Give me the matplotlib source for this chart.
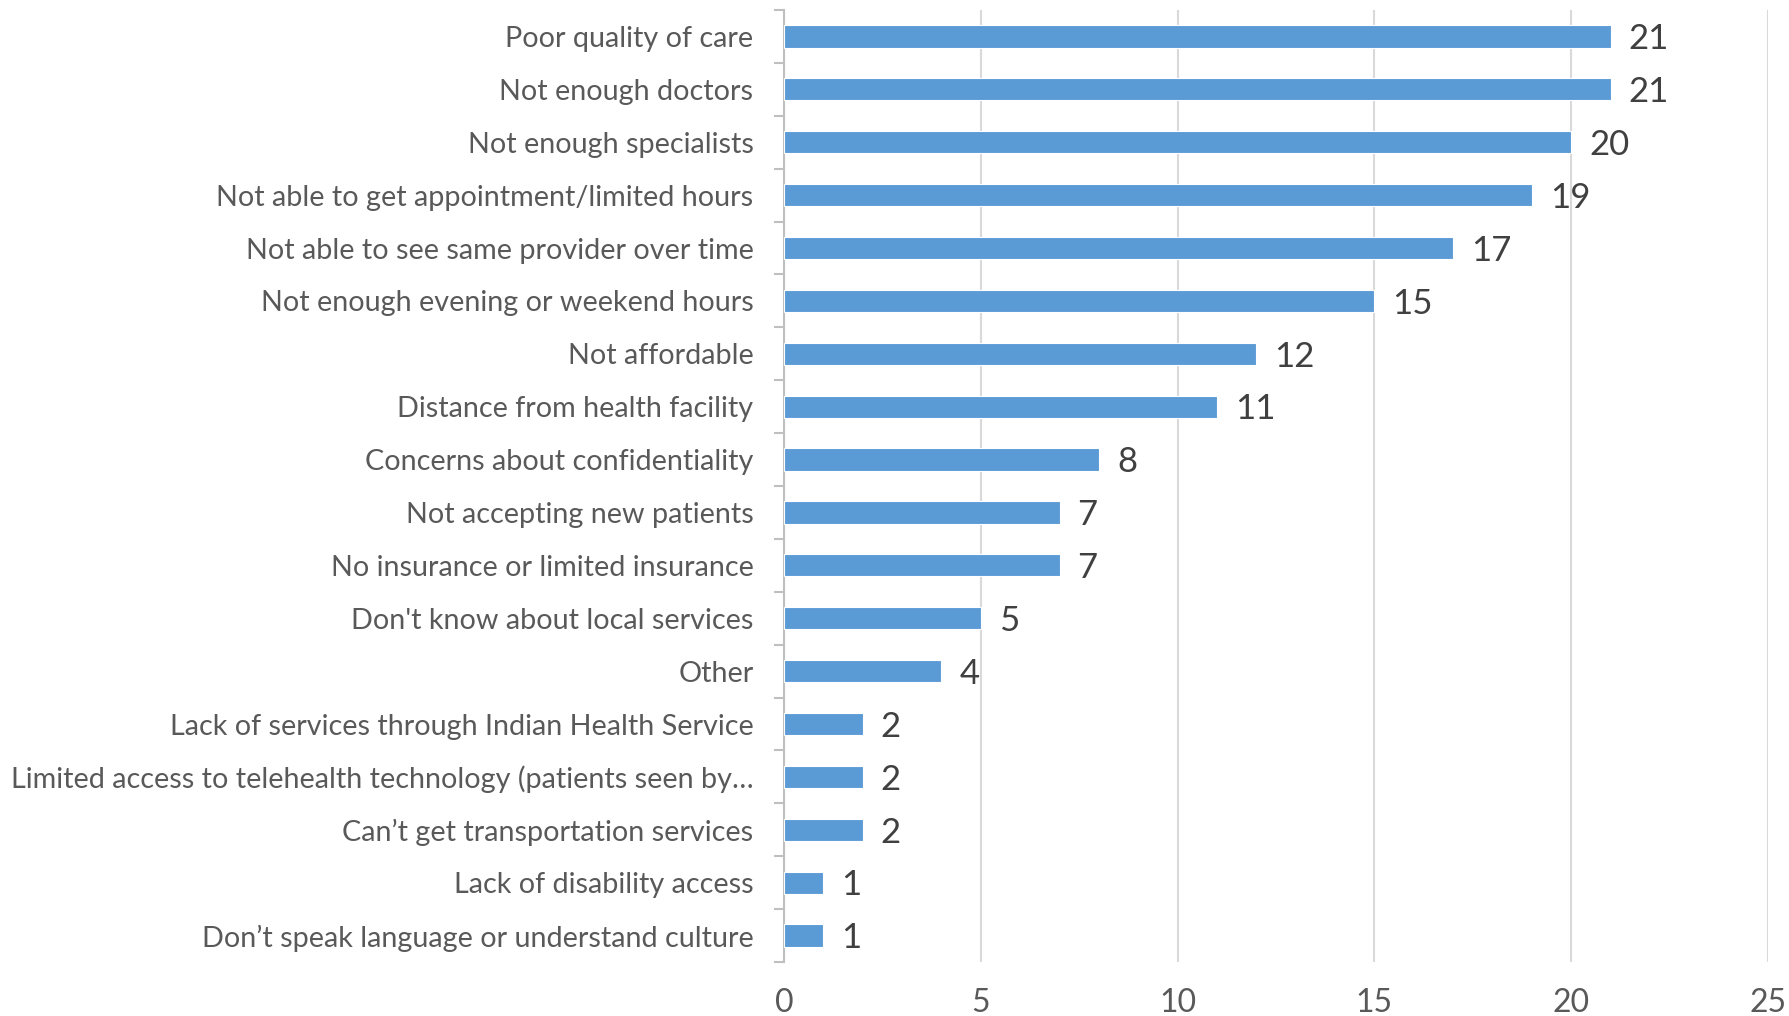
import matplotlib
matplotlib.use("Agg")
import matplotlib.pyplot as plt
from matplotlib.ticker import FixedLocator, NullFormatter

categories = [
    "Poor quality of care",
    "Not enough doctors",
    "Not enough specialists",
    "Not able to get appointment/limited hours",
    "Not able to see same provider over time",
    "Not enough evening or weekend hours",
    "Not affordable",
    "Distance from health facility",
    "Concerns about confidentiality",
    "Not accepting new patients",
    "No insurance or limited insurance",
    "Don't know about local services",
    "Other",
    "Lack of services through Indian Health Service",
    "Limited access to telehealth technology (patients seen by\u2026",
    "Can\u2019t get transportation services",
    "Lack of disability access",
    "Don\u2019t speak language or understand culture",
]
values = [21, 21, 20, 19, 17, 15, 12, 11, 8, 7, 7, 5, 4, 2, 2, 2, 1, 1]
x_ticks = [0, 5, 10, 15, 20, 25]

plt.rcParams['font.family'] = ['Lato', 'DejaVu Sans']

fig = plt.figure(figsize=(17.90, 10.16), dpi=100)
ax = fig.add_axes([784/1790, 1 - 962/1016, (1768-784)/1790, (962-10)/1016])

n = len(categories)
ypos = list(range(n))
bars = ax.barh(ypos, values, height=0.42, color="#5B9BD5", edgecolor="white",
               linewidth=0.8, zorder=3)

ax.set_xlim(0, 25)
ax.set_ylim(n - 0.5, -0.5)
ax.xaxis.set_major_locator(FixedLocator(x_ticks))
ax.grid(axis="x", color="#D9D9D9", linewidth=1.5, zorder=0)
ax.set_axisbelow(True)

for s in ["top", "right", "bottom"]:
    ax.spines[s].set_visible(False)
ax.spines["left"].set_color("#BFBFBF")
ax.spines["left"].set_linewidth(1.5)

ax.set_yticks(ypos)
ax.set_yticklabels(categories)
ax.tick_params(axis="y", which="major", length=0, pad=22, labelsize=20.7,
               labelcolor="#595959")
ax.yaxis.set_minor_locator(FixedLocator([i - 0.5 for i in range(n + 1)]))
ax.yaxis.set_minor_formatter(NullFormatter())
ax.tick_params(axis="y", which="minor", length=7.5, width=1.5, color="#BFBFBF")

ax.tick_params(axis="x", length=0, pad=19, labelsize=23, labelcolor="#595959")

for b, v in zip(bars, values):
    ax.annotate(str(v), xy=(b.get_width(), b.get_y() + b.get_height() / 2),
                xytext=(13, -2), textcoords="offset points", va="center",
                ha="left", fontsize=25, color="#404040")

fig.savefig("out.png", dpi=100, facecolor="white")
